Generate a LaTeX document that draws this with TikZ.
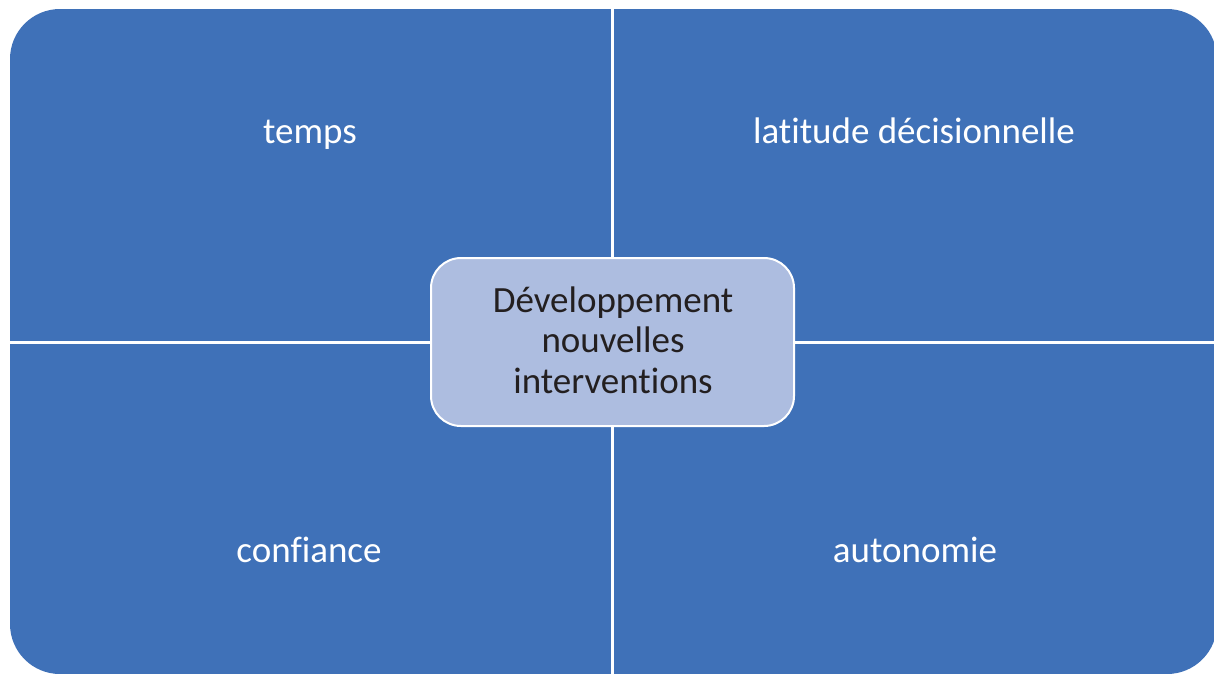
\documentclass[tikz,border=0pt]{standalone}
\usepackage{fontspec}
\setmainfont{Carlito}[Ligatures=NoCommon]
\definecolor{quadblue}{HTML}{3F71B8}
\definecolor{centerfill}{HTML}{ADBDE0}
\definecolor{darktext}{HTML}{231F20}
\tikzset{
  quadtext/.style={text=white, font=\fontsize{37}{44}\selectfont, anchor=base, inner sep=0pt},
  centerbox/.style={fill=centerfill, draw=white, line width=2pt, rounded corners=30pt, minimum width=363pt, minimum height=168pt, inner sep=0pt},
  centertext/.style={text=darktext, font=\fontsize{37}{40.5}\selectfont, align=center, anchor=base, inner sep=0pt},
  gapline/.style={draw=white, line width=3pt}
}
\begin{document}
\begin{tikzpicture}[x=1pt,y=-1pt]
\useasboundingbox (0,0) rectangle (1214,673);
\fill[white] (0,0) rectangle (1214,673);
\fill[quadblue, rounded corners=50pt] (10,9) rectangle (1217,674);
\coordinate (vtop) at (612.5,8);
\coordinate (vbot) at (612.5,675);
\coordinate (hl) at (9,342);
\coordinate (hr) at (1218,342);
\draw[gapline] (vtop) -- (vbot);
\draw[gapline] (hl) -- (hr);
\node[quadtext] (temps) at (310,143) {temps};
\node[quadtext] (latitude) at (914,143) {latitude décisionnelle};
\node[quadtext] (confiance) at (309,562) {confiance};
\node[quadtext] (autonomie) at (915,562) {autonomie};
\node[centerbox] (center) at (612.5,342) {};
\node[centertext] (centerlabel) at (613,393) {Développement\\nouvelles\\interventions};
\end{tikzpicture}
\end{document}
